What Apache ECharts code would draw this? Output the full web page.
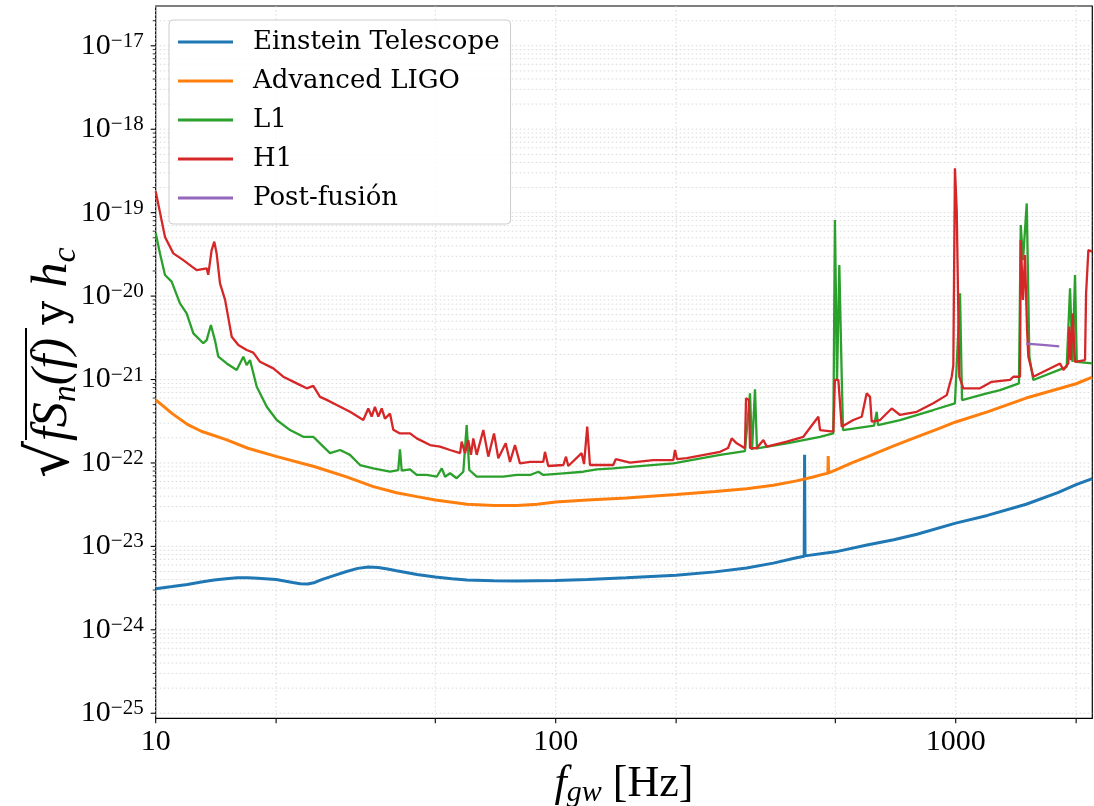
<!DOCTYPE html>
<html><head><meta charset="utf-8">
<script src="https://cdn.jsdelivr.net/npm/echarts@6/dist/echarts.min.js"></script>
<style>html,body{margin:0;padding:0;background:#fff}#c{width:1094px;height:806px}</style>
</head><body><div id="c"></div>
<script>
const seriesNames = ['Einstein Telescope', 'Advanced LIGO', 'L1', 'H1', 'Post-fusión'];
const seriesColors = ['#1f77b4', '#ff7f0e', '#2ca02c', '#d62728', '#9467bd'];

// [frequency Hz, sqrt(f Sn(f)) or h_c]
const etData = [[10,3.1e-24],[11,3.3e-24],[12,3.5e-24],[13,3.75e-24],[14,3.95e-24],[15,4.1e-24],[16,4.2e-24],[17,4.2e-24],[18,4.15e-24],[20,4.0e-24],[22,3.7e-24],[23,3.57e-24],[24,3.55e-24],[25,3.7e-24],[26,4.0e-24],[28,4.5e-24],[30,5.0e-24],[32,5.45e-24],[34,5.65e-24],[36,5.6e-24],[38,5.35e-24],[40,5.1e-24],[45,4.6e-24],[50,4.3e-24],[55,4.1e-24],[60,3.95e-24],[70,3.87e-24],[80,3.85e-24],[100,3.9e-24],[120,4.0e-24],[150,4.2e-24],[200,4.5e-24],[250,4.95e-24],[300,5.5e-24],[350,6.3e-24],[400,7.3e-24],[418,7.6e-24],[419,1.25e-22],[420,7.7e-24],[500,8.6e-24],[600,1.04e-23],[700,1.2e-23],[800,1.4e-23],[1000,1.9e-23],[1200,2.35e-23],[1500,3.2e-23],[1800,4.4e-23],[2000,5.5e-23],[2195,6.5e-23]];

const aligoData = [[10,5.7e-22],[10.5,4.7e-22],[11,3.9e-22],[12,2.9e-22],[13,2.4e-22],[15,1.9e-22],[17,1.5e-22],[20,1.2e-22],[25,9.0e-23],[30,6.8e-23],[35,5.2e-23],[40,4.4e-23],[45,3.95e-23],[50,3.6e-23],[60,3.2e-23],[70,3.1e-23],[80,3.1e-23],[90,3.2e-23],[100,3.4e-23],[120,3.6e-23],[150,3.8e-23],[200,4.2e-23],[250,4.55e-23],[300,4.9e-23],[350,5.4e-23],[400,6.1e-23],[440,6.8e-23],[470,7.4e-23],[479,7.5e-23],[480,1.21e-22],[481,7.6e-23],[500,8.2e-23],[550,1.0e-22],[600,1.18e-22],[700,1.6e-22],[800,2.05e-22],[900,2.55e-22],[1000,3.1e-22],[1200,4.1e-22],[1500,6.0e-22],[2000,8.9e-22],[2195,1.07e-21]];

const l1Data = [[10,5.7e-20],[10.25,3.25e-20],[10.55,1.79e-20],[10.96,1.49e-20],[11.5,8.2e-21],[11.95,6.2e-21],[12.42,3.58e-21],[13.15,2.72e-21],[13.41,2.97e-21],[13.74,4.5e-21],[14.06,2.97e-21],[14.34,1.88e-21],[15.05,1.56e-21],[15.94,1.3e-21],[16.56,1.88e-21],[16.88,1.49e-21],[17.21,1.71e-21],[17.89,8.2e-22],[18.95,4.72e-22],[20.07,3.27e-22],[21.67,2.48e-22],[23.39,2.06e-22],[24.77,2.06e-22],[26.24,1.57e-22],[27.28,1.31e-22],[28.9,1.43e-22],[30.03,1.31e-22],[30.6,1.25e-22],[32.42,9.45e-23],[34.99,8.63e-23],[38.53,7.85e-23],[40.4,8.23e-23],[40.8,1.46e-22],[41.21,8.07e-23],[43.23,8.4e-23],[44.93,7.18e-23],[47.6,7.18e-23],[50.4,6.84e-23],[51.9,8.63e-23],[52.9,6.84e-23],[54.42,7.52e-23],[56.55,6.55e-23],[58.75,7.85e-23],[59.9,2.85e-22],[60.8,8.23e-23],[63.46,6.84e-23],[68.5,6.84e-23],[74,6.84e-23],[79.9,7.18e-23],[86.3,7.18e-23],[90.5,7.85e-23],[93.1,7.18e-23],[104.5,7.52e-23],[117.2,7.85e-23],[126.6,8.4e-23],[139.3,8.63e-23],[153.4,9.0e-23],[196.8,9.9e-23],[257.6,1.25e-22],[297.2,1.39e-22],[306,6.84e-22],[309.6,1.43e-22],[314.9,7.63e-22],[318.5,1.5e-22],[378.1,1.72e-22],[458,2.06e-22],[494.3,2.26e-22],[498.9,8.15e-20],[505,9.9e-22],[511.7,2.36e-20],[518.8,1.08e-21],[522.6,2.48e-22],[625,2.8e-22],[634.6,4.11e-22],[639.4,2.85e-22],[725.8,3.27e-22],[879,4.31e-22],[995.5,5.19e-22],[1025,1.08e-20],[1037,5.68e-22],[1196,6.84e-22],[1291,7.48e-22],[1439,9.0e-22],[1454,7.1e-20],[1473,2.7e-20],[1505,1.29e-19],[1528,1.88e-21],[1563,9.86e-22],[1894,1.42e-21],[1931,1.24e-20],[1959,1.62e-21],[1987,1.79e-20],[2007,1.63e-21],[2195,1.56e-21]];

const h1Data = [[10,1.8e-19],[10.55,5.1e-20],[11.07,3.25e-20],[11.72,2.7e-20],[12.66,2.05e-20],[13.41,2.15e-20],[13.53,1.8e-20],[13.8,3.56e-20],[14.01,4.5e-20],[14.2,3.25e-20],[14.48,1.42e-20],[14.91,9e-21],[15.49,3.26e-21],[16.09,2.6e-21],[16.88,2.26e-21],[17.54,2.1e-21],[18.23,1.63e-21],[19.68,1.36e-21],[20.84,1.08e-21],[22.52,9.0e-22],[23.85,7.85e-22],[24.77,8.4e-22],[25.75,6.2e-22],[26.76,5.7e-22],[28.35,4.95e-22],[30.6,4.1e-22],[33.04,3.27e-22],[34.0,4.5e-22],[34.67,3.6e-22],[35.32,4.7e-22],[36.02,3.6e-22],[36.73,4.5e-22],[37.42,3.4e-22],[38.53,3.9e-22],[39.26,2.5e-22],[40.8,2.26e-22],[43.23,2.26e-22],[44.93,1.97e-22],[48.51,1.64e-22],[51.38,1.57e-22],[54.42,1.43e-22],[57.66,1.31e-22],[58.2,1.8e-22],[59.33,1.31e-22],[60.45,1.88e-22],[61.4,1.25e-22],[62.23,1.97e-22],[63.46,1.25e-22],[65.92,2.48e-22],[67.85,1.19e-22],[70.1,2.26e-22],[71.86,1.14e-22],[74.99,1.72e-22],[76.87,1.03e-22],[79.1,1.64e-22],[81.4,9.9e-23],[86.3,1.03e-22],[93.1,1.03e-22],[94.0,1.36e-22],[95.8,9.2e-23],[104.5,9.45e-23],[106.1,1.19e-22],[107.5,9.2e-23],[116.1,1.31e-22],[117.7,9.7e-23],[119.9,2.72e-22],[121.8,9.45e-23],[139.3,9.45e-23],[141.3,1.11e-22],[153.4,1.01e-22],[175.4,1.08e-22],[196.8,1.08e-22],[198.7,1.43e-22],[201,1.11e-22],[212.6,1.14e-22],[257.6,1.36e-22],[269.7,1.51e-22],[275.4,1.97e-22],[283.5,1.72e-22],[297.2,1.5e-22],[299.1,5.95e-22],[304.1,5.7e-22],[306,1.51e-22],[318,1.5e-22],[330.4,1.88e-22],[337,1.57e-22],[378.1,1.8e-22],[415.9,2.06e-22],[453.5,3.58e-22],[458,2.48e-22],[494.3,2.37e-22],[498.9,9.9e-22],[508.8,9.9e-22],[518.8,2.72e-22],[554.6,3.27e-22],[582.1,3.58e-22],[599,6.84e-22],[610.6,6.2e-22],[616.6,3.12e-22],[647,3.27e-22],[691.8,4.5e-22],[725.8,3.76e-22],[799,4.1e-22],[879,5.2e-22],[949.5,6.5e-22],[977.2,1.08e-21],[986.3,1.49e-21],[995.5,3.4e-19],[1005.8,1.07e-19],[1020.9,1.08e-21],[1044.7,7.85e-22],[1150,7.85e-22],[1230,9.4e-22],[1367,9.9e-22],[1393,1.08e-21],[1448,1.08e-21],[1454,4.7e-20],[1473,9e-21],[1490,3.1e-20],[1508,3.9e-21],[1519,1.88e-21],[1563,1.08e-21],[1823,1.56e-21],[1858,1.3e-21],[1912,1.56e-21],[1923,4.3e-21],[1941,1.71e-21],[1961,6.2e-21],[1987,1.63e-21],[2105,1.71e-21],[2118,1.08e-20],[2146,3.56e-20],[2195,3.4e-20]];

const postData = [[1500,2.7e-21],[1650,2.6e-21],[1815,2.5e-21]];

const xRange = [10, 2195];
const yRange = [8.7e-26, 3e-17];
const xGridTicks = [10, 20, 50, 100, 200, 500, 1000, 2000];
const yDecadeExps = [-25, -24, -23, -22, -21, -20, -19, -18, -17];

// ECharts v6 log axes lose values below ~1e-20 (rounding), so both axes are
// value axes over log10 of the data: decades are equally spaced as on a log axis.
const lg = Math.log10;
const toLog = arr => arr.map(p => [lg(p[0]), lg(p[1])]);

// tick / grid helper items: [logx, logy, kind]  kind 0: x tick, 1: y major, 2: y minor
const gridItems = [];
xGridTicks.forEach(v => gridItems.push([lg(v), -20, 0]));
yDecadeExps.forEach(e => {
  gridItems.push([1, e, 1]);
  for (let m = 2; m <= 9; m++) {
    const v = m * Math.pow(10, e);
    if (v < yRange[1] * 0.99) gridItems.push([1, lg(v), 2]);
  }
});

const gridLineStyle = { stroke: '#cfcfcf', lineWidth: 0.8, lineDash: [1.5, 2.5] };
function renderGrid(params, api) {
  const cs = params.coordSys;
  const kind = api.value(2);
  if (kind === 0) {
    const p = api.coord([api.value(0), -20]);
    return { type: 'group', children: [
      { type: 'line', shape: { x1: p[0], y1: cs.y, x2: p[0], y2: cs.y + cs.height }, style: gridLineStyle },
      { type: 'line', shape: { x1: p[0], y1: cs.y + cs.height, x2: p[0], y2: cs.y + cs.height + 5 }, style: { stroke: '#000', lineWidth: 1.1 } }
    ]};
  }
  const p = api.coord([1, api.value(1)]);
  const len = kind === 1 ? 5 : 3;
  return { type: 'group', children: [
    { type: 'line', shape: { x1: cs.x, y1: p[1], x2: cs.x + cs.width, y2: p[1] }, style: gridLineStyle },
    { type: 'line', shape: { x1: cs.x - len, y1: p[1], x2: cs.x, y2: p[1] }, style: { stroke: '#000', lineWidth: kind === 1 ? 1.1 : 0.8 } }
  ]};
}

const isInt = v => Math.abs(v - Math.round(v)) < 1e-9;

const lineData = [etData, aligoData, l1Data, h1Data, postData];
const lineWidths = [3, 3, 2.3, 2.3, 2.2];

const chart = echarts.init(document.getElementById('c'), null, { renderer: 'canvas' });
chart.setOption({
  animation: false,
  backgroundColor: '#fff',
  grid: { left: 155.7, right: 1.7, top: 6, bottom: 87.7, show: true, borderColor: '#000', borderWidth: 1.2, containLabel: false, outerBoundsMode: 'none' },
  legend: {
    data: seriesNames,
    orient: 'vertical',
    left: 169, top: 20,
    padding: [9, 11, 13, 9],
    itemGap: 13,
    itemWidth: 55, itemHeight: 3,
    icon: 'rect',
    backgroundColor: 'rgba(255,255,255,0.85)',
    borderColor: '#cccccc', borderWidth: 1, borderRadius: 4,
    textStyle: { fontFamily: 'DejaVu Serif', fontSize: 26, color: '#000', lineHeight: 25, padding: [0, 0, 0, 15] }
  },
  xAxis: {
    type: 'value', min: lg(xRange[0]), max: lg(xRange[1]), interval: 1,
    axisLine: { show: false }, axisTick: { show: false }, splitLine: { show: false },
    axisLabel: {
      interval: 0, margin: 9, color: '#000', fontFamily: 'Liberation Serif', fontSize: 30,
      showMaxLabel: true, showMinLabel: true,
      formatter: v => isInt(v) ? String(Math.round(Math.pow(10, v))) : ''
    },
    name: '{f|f}{g|gw}{h| [Hz]}',
    nameLocation: 'middle', nameGap: 32,
    nameTextStyle: { rich: {
      f: { fontFamily: 'Liberation Serif', fontStyle: 'italic', fontSize: 44, lineHeight: 46, verticalAlign: 'top', color: '#000' },
      g: { fontFamily: 'Liberation Serif', fontStyle: 'italic', fontSize: 30, lineHeight: 30, padding: [14, 0, 0, 0], verticalAlign: 'bottom', color: '#000' },
      h: { fontFamily: 'Liberation Serif', fontSize: 44, lineHeight: 46, verticalAlign: 'top', color: '#000' }
    }}
  },
  yAxis: {
    type: 'value', min: lg(yRange[0]), max: lg(yRange[1]), splitNumber: 8,
    axisLine: { show: false }, axisTick: { show: false }, splitLine: { show: false },
    axisLabel: {
      interval: 0, margin: 12, showMaxLabel: true, showMinLabel: true,
      formatter: v => {
        if (!isInt(v)) return '';
        const e = Math.round(v);
        return '{b|10}{s|' + (e < 0 ? '\u2212' + (-e) : e) + '}';
      },
      rich: {
        b: { fontFamily: 'Liberation Serif', fontSize: 30, lineHeight: 30, padding: [6, 0, 0, 0], verticalAlign: 'bottom', color: '#000' },
        s: { fontFamily: 'Liberation Serif', fontSize: 21, lineHeight: 21, verticalAlign: 'top', color: '#000' }
      }
    }
  },
  graphic: [{
    type: 'group', x: 53, y: 360, rotation: Math.PI / 2,
    children: [
      { type: 'text', x: -118, y: 0, style: {
          text: '{r|\u221A}{m|fS}{s|n}{m|(f)}{n| y }{m|h}{s|c}',
          align: 'left', verticalAlign: 'middle',
          rich: {
            r: { fontFamily: 'DejaVu Sans', fontSize: 58, lineHeight: 60, verticalAlign: 'middle', fill: '#000' },
            m: { fontFamily: 'Liberation Serif', fontStyle: 'italic', fontSize: 50, lineHeight: 50, verticalAlign: 'middle', fill: '#000' },
            s: { fontFamily: 'Liberation Serif', fontStyle: 'italic', fontSize: 34, lineHeight: 34, verticalAlign: 'bottom', fill: '#000' },
            n: { fontFamily: 'DejaVu Serif', fontSize: 42, lineHeight: 50, verticalAlign: 'middle', fill: '#000' }
          }
      }},
      { type: 'line', shape: { x1: -80, y1: -27, x2: 32, y2: -27 }, style: { stroke: '#000', lineWidth: 2 } }
    ]
  }],
  series: [
    { type: 'custom', name: '_grid', silent: true, z: 0, renderItem: renderGrid, data: gridItems, clip: false }
  ].concat(seriesNames.map((n, i) => ({
    type: 'line', name: n, data: toLog(lineData[i]), showSymbol: false, symbol: 'none',
    z: 2 + i, clip: true,
    lineStyle: { color: seriesColors[i], width: lineWidths[i] },
    itemStyle: { color: seriesColors[i] },
    emphasis: { disabled: true }
  })))
});
</script></body></html>
